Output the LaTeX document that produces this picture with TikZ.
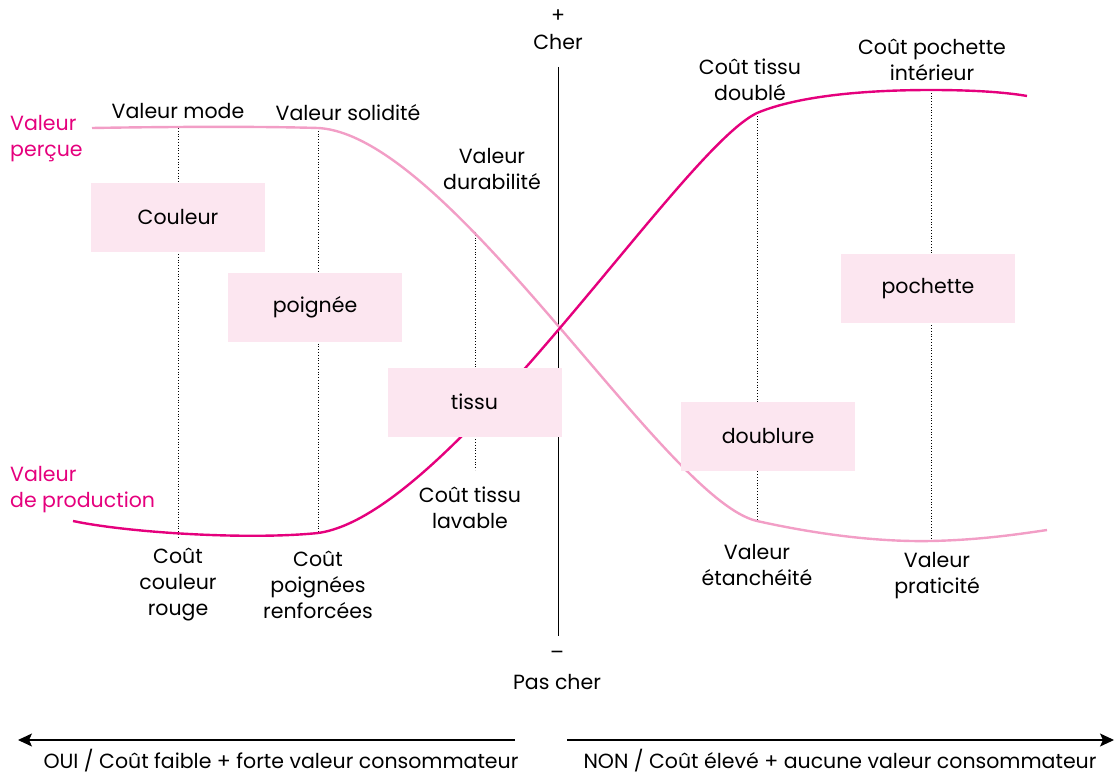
\documentclass[tikz,border=0pt]{standalone}
\usepackage{fontspec}
\setmainfont{Poppins}
\usetikzlibrary{arrows.meta}
\definecolor{mag}{HTML}{E5007D}
\definecolor{lpink}{HTML}{F29EC6}
\definecolor{boxfill}{HTML}{FCE6F0}
\tikzset{
  lbl/.style={font=\fontsize{20.5}{26}\selectfont, align=center, inner sep=0pt},
  maglbl/.style={font=\fontsize{20.5}{26}\selectfont, text=mag, align=left, inner sep=0pt, anchor=west},
  pbox/.style={fill=boxfill, minimum width=174pt, minimum height=69pt, inner sep=0pt, font=\fontsize{20.5}{26}\selectfont},
  guide/.style={dotted, line width=0.8pt},
  axisline/.style={line width=1pt},
  curve/.style={line width=2.4pt},
  bottomarrow/.style={line width=1.2pt, -{Stealth[length=14pt,width=13pt,inset=3pt]}}
}
\begin{document}
\begin{tikzpicture}[x=1pt,y=-1pt]
\useasboundingbox (0,0) rectangle (1115,775);
% guide coordinates
\coordinate (g1t) at (178,128); \coordinate (g1b) at (178,538);
\coordinate (g2t) at (318,128); \coordinate (g2b) at (318,533);
\coordinate (g3t) at (475,232); \coordinate (g3b) at (475,470);
\coordinate (g4t) at (757,113); \coordinate (g4b) at (757,521);
\coordinate (g5t) at (931,90);  \coordinate (g5b) at (931,541);
\draw[guide] (g1t) -- (g1b);
\draw[guide] (g2t) -- (g2b);
\draw[guide] (g3t) -- (g3b);
\draw[guide] (g4t) -- (g4b);
\draw[guide] (g5t) -- (g5b);
% axis
\coordinate (axtop) at (558,67);
\coordinate (axbot) at (558,636);
\draw[axisline] (axtop) -- (axbot);
\node[lbl] (plus) at (558,16) {+};
\node[lbl] (cher) at (558,42) {Cher};
\node[lbl] (minus) at (557,655) {–};
\node[lbl] (pascher) at (557,682) {Pas cher};
% curves
\draw[lpink, curve] (92,128) .. controls (150,127) and (250,126) .. (g2t)
  .. controls (450,135) and (665,500) .. (g4b)
  .. controls (820,535) and (880,542) .. (g5b)
  .. controls (980,540) and (1020,534) .. (1047,530);
\draw[mag, curve] (73,521) .. controls (130,533) and (250,540) .. (g2b)
  .. controls (450,515) and (680,150) .. (g4t)
  .. controls (800,95) and (870,90) .. (g5t)
  .. controls (980,90) and (1010,93) .. (1027,96);
% boxes (on top of lines)
\node[pbox] (couleur) at (178,217.5) {Couleur};
\node[pbox] (poignee) at (315,307.5) {poignée};
\node[pbox] (tissu) at (474.5,402) {tissu};
\node[pbox] (doublure) at (768,436.5) {doublure};
\node[pbox] (pochette) at (928,288.5) {pochette};
% side labels
\node[maglbl] (vperc) at (10,139) {Valeur\\perçue};
\node[maglbl] (vprod) at (10,490) {Valeur\\de production};
% top labels
\node[lbl] (vmode) at (178,111) {Valeur mode};
\node[lbl] (vsol) at (348,113) {Valeur solidité};
\node[lbl] (vdur) at (492,169) {Valeur\\durabilité};
\node[lbl] (ctlav) at (470,508) {Coût tissu\\lavable};
\node[lbl] (ccoul) at (178,585) {Coût\\couleur\\rouge};
\node[lbl] (cpoig) at (318,585) {Coût\\poignées\\renforcées};
\node[lbl] (ctdoub) at (750,80) {Coût tissu\\doublé};
\node[lbl] (cpoch) at (932,60) {Coût pochette\\intérieur};
\node[lbl] (vetan) at (757,565) {Valeur\\étanchéité};
\node[lbl] (vprat) at (937,576) {Valeur\\praticité};
% bottom arrows
\coordinate (la0) at (515,740); \coordinate (la1) at (18,740);
\coordinate (ra0) at (567,740); \coordinate (ra1) at (1114,740);
\draw[bottomarrow] (la0) -- (la1);
\draw[bottomarrow] (ra0) -- (ra1);
\node[lbl] (oui) at (281,761) {OUI / Coût faible + forte valeur consommateur};
\node[lbl] (non) at (840,761) {NON / Coût élevé + aucune valeur consommateur};
\end{tikzpicture}
\end{document}
